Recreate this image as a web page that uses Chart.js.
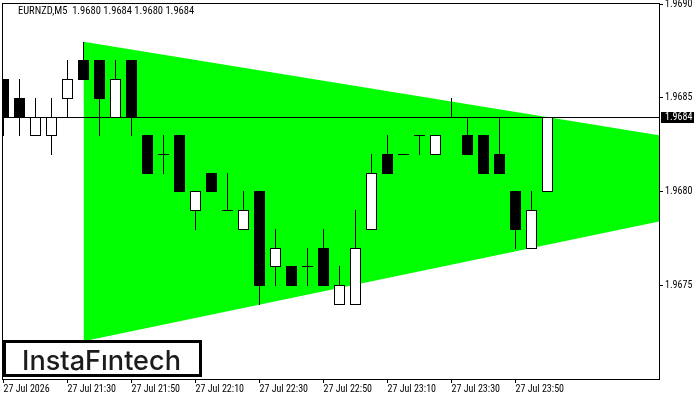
<!DOCTYPE html>
<html>
<head>
<meta charset="utf-8">
<script src="https://cdn.jsdelivr.net/npm/chart.js@4/dist/chart.umd.min.js"></script>
<style>
  html, body { margin: 0; padding: 0; background: #fff; }
  #wrap { width: 700px; height: 400px; position: relative; }
</style>
</head>
<body>
<div id="wrap"><canvas id="c" width="700" height="400"></canvas></div>
<script>
// ---- data ----
const symbolTitle = "EURNZD,M5  1.9680 1.9684 1.9680 1.9684";
const opens  = [1.9686,1.9685,1.9683,1.9683,1.9685,1.9687,1.9687,1.9684,1.9687,1.9683,1.9682,1.9683,1.9679,1.9681,1.9679,1.9678,1.9680,1.9676,1.9676,1.9676,1.9677,1.9674,1.9674,1.9678,1.9682,1.9682,1.9683,1.9682,1.9684,1.9683,1.9683,1.9682,1.9680,1.9677,1.9680];
const highs  = [1.9686,1.9686,1.9685,1.9685,1.9687,1.9688,1.9687,1.9687,1.9687,1.9683,1.9683,1.9683,1.9680,1.9681,1.9681,1.9680,1.9680,1.9678,1.9676,1.9677,1.9678,1.9676,1.9679,1.9682,1.9683,1.9682,1.9683,1.9683,1.9685,1.9684,1.9683,1.9684,1.9680,1.9680,1.9684];
const lows   = [1.9683,1.9683,1.9683,1.9682,1.9684,1.9686,1.9683,1.9684,1.9683,1.9681,1.9681,1.9680,1.9678,1.9680,1.9679,1.9678,1.9674,1.9675,1.9675,1.9675,1.9675,1.9674,1.9674,1.9678,1.9681,1.9682,1.9682,1.9682,1.9684,1.9682,1.9681,1.9681,1.9677,1.9677,1.9680];
const closes = [1.9684,1.9684,1.9684,1.9684,1.9686,1.9686,1.9685,1.9686,1.9684,1.9681,1.9682,1.9680,1.9680,1.9680,1.9679,1.9679,1.9675,1.9677,1.9675,1.9676,1.9675,1.9675,1.9677,1.9681,1.9681,1.9682,1.9683,1.9683,1.9684,1.9682,1.9681,1.9681,1.9678,1.9679,1.9684];
const upperLine = [{x: 5, y: 1.9688}, {x: 41, y: 1.96830}];
const lowerLine = [{x: 5, y: 1.9672}, {x: 41, y: 1.96784}];
const currentPrice = 1.9684;
const xTickIdx = [0, 4, 8, 12, 16, 20, 24, 28, 32];
const xTickLabels = ["27 Jul 2026","27 Jul 21:30","27 Jul 21:50","27 Jul 22:10","27 Jul 22:30","27 Jul 22:50","27 Jul 23:10","27 Jul 23:30","27 Jul 23:50"];
const yTickValues = [1.9675, 1.9680, 1.9685, 1.9690];
const logoText = "InstaF\u0131ntech";

const FONT = "'Roboto Condensed', 'Liberation Sans', sans-serif";

const candlePlugin = {
  id: 'candles',
  afterDatasetsDraw(chart) {
    const ctx = chart.ctx, a = chart.chartArea;
    const xs = chart.scales.x, ys = chart.scales.y;
    const row = p => Math.round(ys.getPixelForValue(p));
    ctx.save();
    ctx.beginPath();
    ctx.rect(a.left, a.top, a.right - a.left, a.bottom - a.top);
    ctx.clip();
    // current price line
    ctx.fillStyle = '#000';
    ctx.fillRect(a.left, row(currentPrice), a.right - a.left, 1);
    for (let i = 0; i < opens.length; i++) {
      const cx = Math.floor(xs.getPixelForValue(i));
      const yh = row(highs[i]), yl = row(lows[i]);
      const yo = row(opens[i]), yc = row(closes[i]);
      ctx.fillStyle = '#000';
      ctx.fillRect(cx, yh, 1, yl - yh + 1);
      const top = Math.min(yo, yc), bot = Math.max(yo, yc);
      if (closes[i] < opens[i]) {
        ctx.fillStyle = '#000';
        ctx.fillRect(cx - 5, top, 11, bot - top + 1);
      } else if (closes[i] > opens[i]) {
        ctx.fillStyle = '#fff';
        ctx.fillRect(cx - 5, top, 11, bot - top + 1);
        ctx.strokeStyle = '#000';
        ctx.lineWidth = 1;
        ctx.strokeRect(cx - 5 + 0.5, top + 0.5, 10, bot - top);
      } else {
        ctx.fillStyle = '#000';
        ctx.fillRect(cx - 5, top, 11, 1);
      }
    }
    ctx.restore();
    // frame
    ctx.save();
    ctx.fillStyle = '#000';
    const L = Math.round(a.left), R = Math.round(a.right), T = Math.round(a.top), B = Math.round(a.bottom);
    ctx.fillRect(L, T, R - L + 1, 1);
    ctx.fillRect(L, B, R - L + 1, 1);
    ctx.fillRect(L, T, 1, B - T + 1);
    ctx.fillRect(R, T, 1, B - T + 1);
    ctx.restore();
  },
  afterDraw(chart) {
    const ctx = chart.ctx, ys = chart.scales.y;
    ctx.save();
    // title
    ctx.fillStyle = '#000';
    ctx.font = "10.5px " + FONT;
    ctx.textBaseline = 'middle';
    ctx.textAlign = 'left';
    ctx.fillText(symbolTitle, 18, 11.5);
    // price tag
    ctx.font = "10px " + FONT;
    const py = Math.round(ys.getPixelForValue(currentPrice));
    ctx.fillStyle = '#000';
    ctx.fillRect(661, py - 5, 33, 11);
    ctx.fillStyle = '#fff';
    ctx.fillText(currentPrice.toFixed(4), 665, py + 0.5);
    // logo
    ctx.fillStyle = '#fff';
    ctx.fillRect(4, 341, 197, 35);
    ctx.strokeStyle = '#000';
    ctx.lineWidth = 3;
    ctx.strokeRect(4.5, 341.5, 196, 34);
    ctx.fillStyle = '#1c1c1c';
    ctx.font = "500 27.5px Inter, Lato, sans-serif";
    ctx.textBaseline = 'alphabetic';
    const w = ctx.measureText(logoText).width;
    const target = 159;
    ctx.translate(22, 369.5);
    ctx.scale(target / w, 1);
    ctx.fillText(logoText, 0, 0);
    ctx.restore();
  }
};

new Chart(document.getElementById('c'), {
  type: 'line',
  data: {
    datasets: [
      { data: upperLine, borderWidth: 0, pointRadius: 0, backgroundColor: '#00ff00', fill: '+1', tension: 0 },
      { data: lowerLine, borderWidth: 0, pointRadius: 0, backgroundColor: '#00ff00', fill: false, tension: 0 }
    ]
  },
  options: {
    responsive: false,
    devicePixelRatio: 1,
    animation: false,
    events: [],
    layout: { padding: { left: 2, top: 2, right: 0, bottom: 0 } },
    plugins: { legend: { display: false }, tooltip: { enabled: false }, title: { display: false } },
    scales: {
      x: {
        type: 'linear',
        min: -0.09375,
        max: 40.96875,
        afterBuildTicks: s => { s.ticks = xTickIdx.map(v => ({ value: v })); },
        afterFit: s => { s.height = 21; },
        grid: { display: true, drawOnChartArea: false, drawTicks: true, tickLength: 4, color: '#000', lineWidth: 1 },
        border: { display: false },
        ticks: {
          align: 'start', maxRotation: 0, minRotation: 0, autoSkip: false, padding: 0,
          color: '#000', font: { family: FONT, size: 10, lineHeight: 1.3 },
          callback: (v) => { const i = xTickIdx.indexOf(v); return i >= 0 ? xTickLabels[i] : ''; }
        }
      },
      y: {
        type: 'linear',
        position: 'right',
        min: 1.9669984,
        max: 1.96900907,
        afterBuildTicks: s => { s.ticks = yTickValues.map(v => ({ value: v })); },
        afterFit: s => { s.width = 41; },
        grid: { display: true, drawOnChartArea: false, drawTicks: true, tickLength: 4, color: '#000', lineWidth: 1 },
        border: { display: false },
        ticks: {
          padding: 2, color: '#000', font: { family: FONT, size: 10, lineHeight: 0.1 },
          callback: v => Number(v).toFixed(4)
        }
      }
    }
  },
  plugins: [candlePlugin]
});
</script>
</body>
</html>
